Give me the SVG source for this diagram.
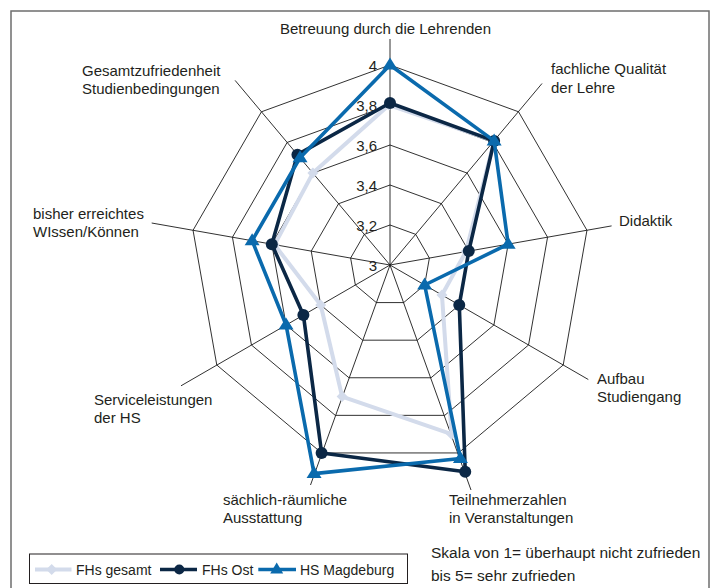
<svg xmlns="http://www.w3.org/2000/svg" width="716" height="588" viewBox="0 0 716 588">
<defs>
<style>
text{font-family:"Liberation Sans",Arial,sans-serif;fill:#231f20}
.lbl{font-size:15px}
.tick{font-size:15px;text-anchor:end}
.leg{font-size:14px}
.ring{fill:none;stroke:#1a1a1a;stroke-width:0.9}
.axis{stroke:#1a1a1a;stroke-width:0.9}
.s-ges{fill:none;stroke:#d3dbeb;stroke-width:4;stroke-linejoin:round}
.s-ost{fill:none;stroke:#0b2745;stroke-width:3.6;stroke-linejoin:round}
.s-md{fill:none;stroke:#0a6aad;stroke-width:3.6;stroke-linejoin:round}
</style>
<marker id="m-dia" markerUnits="userSpaceOnUse" markerWidth="14" markerHeight="14" refX="7" refY="7" orient="0" overflow="visible">
<polygon points="7,1.5 12.5,7 7,12.5 1.5,7" fill="#d3dbeb"/>
</marker>
<marker id="m-cir" markerUnits="userSpaceOnUse" markerWidth="14" markerHeight="14" refX="7" refY="7" orient="0" overflow="visible">
<circle cx="7" cy="7" r="6" fill="#0b2745"/>
</marker>
<marker id="m-tri" markerUnits="userSpaceOnUse" markerWidth="16" markerHeight="16" refX="8" refY="8" orient="0" overflow="visible">
<polygon points="8,0.5 15.5,12.5 0.5,12.5" fill="#0a6aad"/>
</marker>
</defs>
<rect width="716" height="588" fill="#ffffff"/>
<rect x="11" y="11" width="698" height="600" fill="none" stroke="#6e6e6e" stroke-width="1.5"/>

<g id="grid">
<polygon class="ring" points="390,225 415.71,234.36 429.39,258.05 424.64,285 403.68,302.59 376.32,302.59 355.36,285 350.61,258.05 364.29,234.36"/>
<polygon class="ring" points="390,185 441.42,203.72 468.78,251.11 459.28,305 417.36,340.18 362.64,340.18 320.72,305 311.22,251.11 338.58,203.72"/>
<polygon class="ring" points="390,145 467.13,173.07 508.18,244.16 493.92,325 431.04,377.76 348.96,377.76 286.08,325 271.82,244.16 312.87,173.07"/>
<polygon class="ring" points="390,105 492.85,142.43 547.57,237.22 528.56,345 444.72,415.35 335.28,415.35 251.44,345 232.43,237.22 287.15,142.43"/>
<polygon class="ring" points="390,65 518.56,111.79 586.96,230.27 563.21,365 458.4,452.94 321.6,452.94 216.79,365 193.04,230.27 261.44,111.79"/>
</g>
<g id="connectors">
<line class="axis" x1="390" y1="265" x2="390" y2="39"/>
<line class="axis" x1="390" y1="265" x2="542" y2="83.5"/>
<line class="axis" x1="390" y1="265" x2="611.6" y2="225.9"/>
<line class="axis" x1="390" y1="265" x2="588.3" y2="379.5"/>
<line class="axis" x1="390" y1="265" x2="471" y2="490"/>
<line class="axis" x1="390" y1="265" x2="310.5" y2="485"/>
<line class="axis" x1="390" y1="265" x2="181" y2="385.8"/>
<line class="axis" x1="390" y1="265" x2="151.7" y2="223"/>
<line class="axis" x1="390" y1="265" x2="235.1" y2="80.4"/>
</g>

<g id="ticks">
<text class="tick" x="377" y="71">4</text>
<text class="tick" x="377" y="111">3,8</text>
<text class="tick" x="377" y="151">3,6</text>
<text class="tick" x="377" y="191">3,4</text>
<text class="tick" x="377" y="231">3,2</text>
<text class="tick" x="377" y="271">3</text>
</g>

<g id="series-fhs-gesamt">
<polygon class="s-ges" points="389,105 494.13,140.9 466,251.5 441.96,295 451.56,434.14 342.12,396.56 320.72,305 274.5,244.7 312.87,173.07" marker-start="url(#m-dia)" marker-mid="url(#m-dia)"/>
</g>
<g id="series-fhs-ost">
<polygon class="s-ost" points="390,103 494.13,140.9 468.78,251.11 459.28,305 465.24,471.73 321.6,452.94 303.4,315 271.82,244.16 297.44,154.69" marker-start="url(#m-cir)" marker-mid="url(#m-cir)"/>
</g>
<g id="series-hs-magdeburg">
<polygon class="s-md" points="390,65 494.13,140.9 508.18,244.16 424.64,285 460.46,458.58 314.07,473.61 286.08,325 252.13,240.69 300.01,157.75" marker-start="url(#m-tri)" marker-mid="url(#m-tri)"/>
</g>

<g id="label-betreuung"><text class="lbl" x="385.5" y="34" text-anchor="middle">Betreuung durch die Lehrenden</text></g>
<g id="label-fachliche"><text class="lbl" x="551" y="74">fachliche Qualität</text><text class="lbl" x="551" y="93">der Lehre</text></g>
<g id="label-didaktik"><text class="lbl" x="619" y="226">Didaktik</text></g>
<g id="label-aufbau"><text class="lbl" x="597" y="384">Aufbau</text><text class="lbl" x="597" y="402">Studiengang</text></g>
<g id="label-teilnehmer"><text class="lbl" x="449" y="505">Teilnehmerzahlen</text><text class="lbl" x="449" y="523">in Veranstaltungen</text></g>
<g id="label-saechlich"><text class="lbl" x="223" y="505">sächlich-räumliche</text><text class="lbl" x="223" y="523">Ausstattung</text></g>
<g id="label-service"><text class="lbl" x="94" y="405">Serviceleistungen</text><text class="lbl" x="94" y="423">der HS</text></g>
<g id="label-bisher"><text class="lbl" x="33" y="219">bisher erreichtes</text><text class="lbl" x="33" y="237">WIssen/Können</text></g>
<g id="label-gesamt"><text class="lbl" x="82" y="76">Gesamtzufriedenheit</text><text class="lbl" x="82" y="94">Studienbedingungen</text></g>

<g id="legend">
<rect x="29.5" y="554" width="378" height="29.5" fill="#ffffff" stroke="#231f20" stroke-width="1"/>
<line x1="35" y1="569.5" x2="71.5" y2="569.5" stroke="#d3dbeb" stroke-width="4"/>
<polygon points="51.7,564 57.2,569.5 51.7,575 46.2,569.5" fill="#d3dbeb"/>
<text class="leg" x="76" y="575">FHs gesamt</text>
<line x1="160" y1="569.5" x2="197" y2="569.5" stroke="#0b2745" stroke-width="3.6"/>
<circle cx="179.3" cy="569.5" r="5" fill="#0b2745"/>
<text class="leg" x="202" y="575">FHs Ost</text>
<line x1="258.3" y1="569.5" x2="296" y2="569.5" stroke="#0a6aad" stroke-width="3.6"/>
<polygon points="276.7,562.5 283.2,573.5 270.2,573.5" fill="#0a6aad"/>
<text class="leg" x="300" y="575">HS Magdeburg</text>
</g>
<g id="note">
<text x="431" y="558" style="font-size:15.5px">Skala von 1= überhaupt nicht zufrieden</text>
<text x="431" y="581" style="font-size:15.5px">bis 5= sehr zufrieden</text>
</g>
</svg>
